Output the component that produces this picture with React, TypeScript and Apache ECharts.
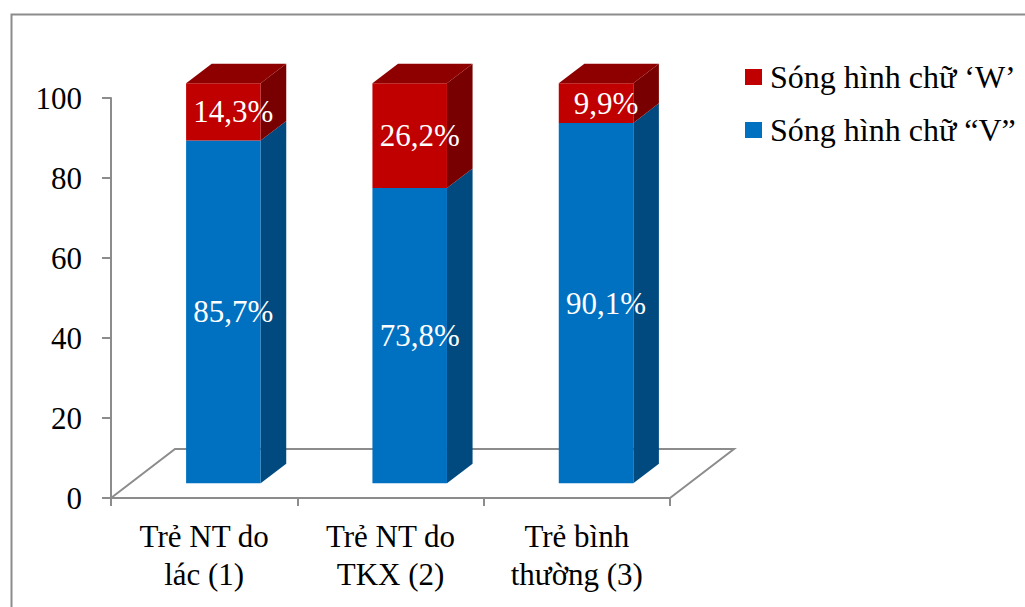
import React, { useEffect, useRef } from "react";
import * as echarts from "echarts";

// Categories and stacked shares (percent) per group
const categories = ["Trẻ NT do\nlác (1)", "Trẻ NT do\nTKX (2)", "Trẻ bình\nthường (3)"];
const vShare = [85.7, 73.8, 90.1];
const wShare = [14.3, 26.2, 9.9];
const nameW = "Sóng hình chữ ‘W’";
const nameV = "Sóng hình chữ “V”";

const FONT = "Liberation Serif";
const GRAY = "#8c8c8c";

// 3D look: depth vector of the floor in pixels, and where the bars sit in it
const DEPTH = [64, -49];
const FRONT = 0.3;
const BAR_DEPTH = 0.4;
const BAR_FRAC = 0.4;

const BLUE = { front: "#0070C0", side: "#004A80", top: "#005A9A" };
const RED = { front: "#C00000", side: "#780000", top: "#8E0000" };

const fmt = (v: number) => v.toFixed(1).replace(".", ",") + "%";

function barRenderer(base: number[], values: number[], col: typeof BLUE, isTop: boolean) {
  return (params: any, api: any) => {
    const i = params.dataIndex;
    const lo = base[i];
    const hi = lo + values[i];
    const b = api.coord([i, lo]);
    const t = api.coord([i, hi]);
    const w = api.size([1, 0])[0] * BAR_FRAC;
    const fx = DEPTH[0] * FRONT;
    const fy = DEPTH[1] * FRONT;
    const dx = DEPTH[0] * BAR_DEPTH;
    const dy = DEPTH[1] * BAR_DEPTH;
    const x0 = b[0] - w / 2 + fx;
    const x1 = b[0] + w / 2 + fx;
    const yb = b[1] + fy;
    const yt = t[1] + fy;
    const children: any[] = [
      {
        type: "polygon",
        shape: { points: [[x1, yt], [x1, yb], [x1 + dx, yb + dy], [x1 + dx, yt + dy]] },
        style: { fill: col.side },
      },
      {
        type: "rect",
        shape: { x: x0, y: yt, width: x1 - x0, height: yb - yt },
        style: { fill: col.front },
      },
    ];
    if (isTop) {
      children.push({
        type: "polygon",
        shape: { points: [[x0, yt], [x1, yt], [x1 + dx, yt + dy], [x0 + dx, yt + dy]] },
        style: { fill: col.top },
      });
    }
    children.push({
      type: "text",
      x: (x0 + x1) / 2 + 10,
      y: (yt + yb) / 2,
      style: {
        text: fmt(values[i]),
        fill: "#ffffff",
        fontSize: 31,
        fontFamily: FONT,
        align: "center",
        verticalAlign: "middle",
      },
    });
    return { type: "group", children };
  };
}

function floorRenderer(params: any) {
  const cs = params.coordSys;
  const fl = [cs.x, cs.y + cs.height];
  const fr = [cs.x + cs.width, cs.y + cs.height];
  return {
    type: "polyline",
    shape: {
      points: [
        fl,
        [fl[0] + DEPTH[0], fl[1] + DEPTH[1]],
        [fr[0] + DEPTH[0], fr[1] + DEPTH[1]],
        fr,
      ],
    },
    style: { stroke: GRAY, lineWidth: 2, fill: "none" },
  };
}

export default function App() {
  const ref = useRef<HTMLDivElement>(null);
  useEffect(() => {
    if (!ref.current) return;
    const chart = echarts.init(ref.current, undefined, { renderer: "svg" });
    const zeros = vShare.map(() => 0);
    chart.setOption({
      animation: false,
      backgroundColor: "#ffffff",
      textStyle: { fontFamily: FONT },
      graphic: [
        {
          type: "rect",
          left: 9,
          top: 12,
          shape: { width: 1200, height: 800 },
          style: { fill: "none", stroke: GRAY, lineWidth: 2 },
          z: -1,
        },
      ],
      grid: { left: 111, right: 355, top: 98, bottom: 109, containLabel: false },
      legend: {
        orient: "vertical",
        left: 745,
        top: 60,
        padding: 0,
        icon: "rect",
        itemWidth: 17,
        itemHeight: 16,
        itemGap: 19,
        data: [nameW, nameV],
        textStyle: {
          fontSize: 32,
          fontFamily: FONT,
          color: "#000",
          lineHeight: 34,
          padding: [0, 0, 0, 3],
        },
      },
      xAxis: {
        type: "category",
        data: categories,
        boundaryGap: true,
        axisLine: { show: true, lineStyle: { color: GRAY, width: 2 } },
        axisTick: { show: true, length: 8, lineStyle: { color: GRAY, width: 2 } },
        axisLabel: {
          interval: 0,
          fontSize: 31,
          lineHeight: 38,
          color: "#000",
          fontFamily: FONT,
          margin: 19,
        },
        splitLine: { show: false },
      },
      yAxis: {
        type: "value",
        min: 0,
        max: 100,
        interval: 20,
        axisLine: { show: true, lineStyle: { color: GRAY, width: 2 } },
        axisTick: { show: true, length: 9, lineStyle: { color: GRAY, width: 2 } },
        axisLabel: { fontSize: 31, color: "#000", fontFamily: FONT, margin: 29 },
        splitLine: { show: false },
      },
      series: [
        {
          type: "custom",
          name: "floor",
          renderItem: floorRenderer,
          data: [[0, 0]],
          silent: true,
          z: 1,
        },
        {
          type: "custom",
          name: nameV,
          itemStyle: { color: BLUE.front },
          renderItem: barRenderer(zeros, vShare, BLUE, false),
          data: vShare.map((v, i) => [i, v]),
          z: 2,
        },
        {
          type: "custom",
          name: nameW,
          itemStyle: { color: RED.front },
          renderItem: barRenderer(vShare, wShare, RED, true),
          data: wShare.map((v, i) => [i, vShare[i] + v]),
          z: 3,
        },
      ],
    });
    return () => chart.dispose();
  }, []);
  return (
    <div
      ref={ref}
      style={{ position: "fixed", left: 0, top: 0, width: 1025, height: 607, background: "#fff" }}
    />
  );
}
